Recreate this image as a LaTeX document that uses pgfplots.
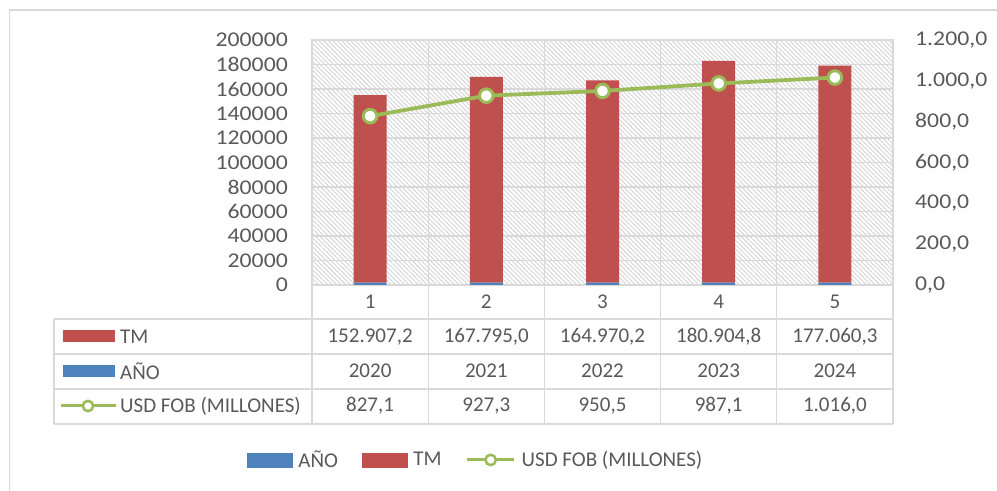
\documentclass[border=0pt]{standalone}
\usepackage{pgfplots}
\pgfplotsset{compat=1.18}
\usepackage{pgfplotstable}
\usepackage{fontspec}
\setmainfont{Carlito}
\newfontfamily\tickfont{Carlito}[FakeStretch=1.13]
\usetikzlibrary{patterns.meta}
\definecolor{txt}{HTML}{595959}
\definecolor{grd}{HTML}{D9D9D9}
\definecolor{hatch}{HTML}{D2D2D2}
\definecolor{cTM}{HTML}{C0504D}
\definecolor{cANO}{HTML}{4F81BD}
\definecolor{cUSD}{HTML}{9BBB59}

\pgfplotstableread{
x ano tm usd
1 2020 152907.2 827.1
2 2021 167795.0 927.3
3 2022 164970.2 950.5
4 2023 180904.8 987.1
5 2024 177060.3 1016.0
}\data

\newcommand{\fs}{\fontsize{21bp}{25bp}\selectfont}
\newcommand{\tfs}{\tickfont\fontsize{21bp}{25bp}\selectfont}

\begin{document}
\begin{tikzpicture}[x=1bp,y=1bp]
\path[use as bounding box] (0,0) rectangle (997,491);
\draw[grd, line width=1.5bp] (9.5,0) -- (9.5,481) -- (997,481);
\begin{axis}[
  at={(312bp,206bp)}, anchor=south west,
  scale only axis, width=581bp, height=245bp,
  xmin=0.5, xmax=5.5, ymin=0, ymax=200000,
  scaled y ticks=false,
  ybar stacked, bar width=33bp,
  axis background/.style={pattern={Lines[angle=-45,distance=3.2bp,line width=0.9bp]}, pattern color=hatch},
  axis line style={grd, line width=1.3bp},
  major tick length=0, minor tick length=0,
  xtick={1,2,3,4,5}, xticklabels={1,2,3,4,5},
  minor xtick={0.5,1.5,2.5,3.5,4.5,5.5},
  xminorgrids, ymajorgrids,
  grid style={grd, line width=1.3bp},
  minor grid style={grd, line width=1.3bp},
  xticklabel style={font=\fs, text=txt, anchor=center, inner sep=0pt, yshift=-17bp},
  ytick={0,20000,...,200000},
  yticklabels={0,20000,40000,60000,80000,100000,120000,140000,160000,180000,200000},
  yticklabel style={font=\tfs, text=txt, anchor=east, inner sep=0pt, xshift=-24bp},
]
\addplot[fill=cANO, draw=none] table[x=x,y=ano]{\data};
\addplot[fill=cTM, draw=none] table[x=x,y=tm]{\data};
\end{axis}
\begin{axis}[
  at={(312bp,206bp)}, anchor=south west,
  scale only axis, width=581bp, height=245bp,
  xmin=0.5, xmax=5.5, ymin=0, ymax=1200,
  axis x line=none, axis y line*=right,
  axis line style={draw=none},
  major tick length=0,
  ytick={0,200,...,1200},
  yticklabels={{0,0},{200,0},{400,0},{600,0},{800,0},{1.000,0},{1.200,0}},
  yticklabel style={font=\tfs, text=txt, anchor=west, inner sep=0pt, xshift=22bp},
  clip=false,
  legend columns=3,
  legend style={at={(0.280,-0.714)}, anchor=center, draw=none, fill=none,
    font=\fs, text=txt, inner sep=0pt,
    nodes={inner sep=0pt},
    /tikz/every odd column/.append style={column sep=6bp},
    /tikz/every even column/.append style={column sep=24bp}},
]
\addlegendimage{legend image code/.code={\fill[cANO] (0bp,-7bp) rectangle (45bp,7bp);}}
\addlegendentry{AÑO}
\addlegendimage{legend image code/.code={\fill[cTM] (0bp,-7bp) rectangle (45bp,7bp);}}
\addlegendentry{TM}
\addplot[cUSD, line width=3.8bp, mark=*, mark size=6.8bp,
  mark options={fill=white, draw=cUSD, line width=3bp},
  legend image code/.code={\draw[cUSD, line width=3bp] (0bp,0bp) -- (47bp,0bp);
    \draw[cUSD, fill=white, line width=2.5bp] (23.5bp,0bp) circle (5.2bp);}]
  table[x=x,y=usd]{\data};
\addlegendentry{USD FOB (MILLONES)}
\end{axis}
% data table
\begin{scope}[grd, line width=1.3bp]
\foreach \xx in {312,428.2,544.4,660.6,776.8,893} {\draw (\xx,206) -- (\xx,67);}
\foreach \yy in {172,137,102,67} {\draw (54,\yy) -- (893,\yy);}
\draw (54,172) -- (54,67);
\end{scope}
\fill[cTM] (63,149) rectangle (115,161);
\fill[cANO] (63,114) rectangle (115,126);
\draw[cUSD, line width=3bp] (61,85) -- (116,85);
\draw[cUSD, fill=white, line width=2.5bp] (88,85) circle (5.2);
\node[anchor=west, inner sep=0pt, font=\fs, text=txt] at (120,154) {TM};
\node[anchor=west, inner sep=0pt, font=\fs, text=txt] at (120,120) {AÑO};
\node[anchor=west, inner sep=0pt, font=\fs, text=txt] at (120,85) {USD FOB (MILLONES)};
\foreach \t [count=\i] in {152.907{,}2,167.795{,}0,164.970{,}2,180.904{,}8,177.060{,}3} {
  \node[inner sep=0pt, font=\fs, text=txt] at ({312+116.2*(\i-0.5)},154) {\t};}
\foreach \t [count=\i] in {2020,2021,2022,2023,2024} {
  \node[inner sep=0pt, font=\fs, text=txt] at ({312+116.2*(\i-0.5)},120) {\t};}
\foreach \t [count=\i] in {827{,}1,927{,}3,950{,}5,987{,}1,1.016{,}0} {
  \node[inner sep=0pt, font=\fs, text=txt] at ({312+116.2*(\i-0.5)},85) {\t};}
\end{tikzpicture}
\end{document}
